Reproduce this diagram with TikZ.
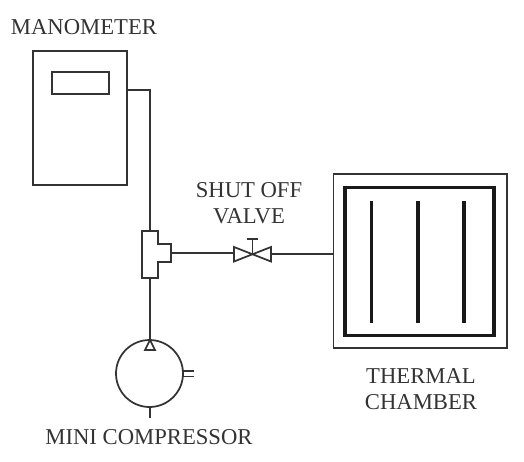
\documentclass[tikz,border=0pt]{standalone}
\usepackage{fontspec}
\setmainfont{Liberation Serif}
\tikzset{
  px/.style={x=0.75pt,y=-0.75pt},
  line/.style={draw=black!80,line width=1.3pt},
  thin box/.style={line,inner sep=0pt,outer sep=0pt},
  label/.style={font=\fontsize{17pt}{19.8pt}\selectfont,align=center,text=black!80,inner sep=0pt}
}
\begin{document}
\begin{tikzpicture}[px]
\useasboundingbox (0,0) rectangle (524,461);
% manometer
\node[thin box,minimum width=70.5pt,minimum height=100.5pt] (mano) at (80,118) {};
\node[thin box,minimum width=42.75pt,minimum height=16.5pt] (disp) at (80.5,83) {};
\coordinate (manoport) at (127,90);
\coordinate (bend) at (150,90);
% T fitting
\draw[line] (142,231) -- (158,231) -- (158,244) -- (171,244) -- (171,262) -- (158,262) -- (158,278) -- (142,278) -- cycle;
\coordinate (ttop) at (150,231);
\coordinate (tbot) at (150,278);
\coordinate (tright) at (171,253);
% valve
\coordinate (vc) at (252.5,254);
\coordinate (vl) at (234,253);
\coordinate (vr) at (271,254);
\draw[line] (234,247) -- (271,261.5) -- (271,247) -- (234,261.5) -- cycle;
\draw[line] (vc) -- (252.5,239) (247,239) -- (258,239);
% chamber
\node[thin box,minimum width=130pt,minimum height=130.5pt] (outer) at (420.25,261) {};
\node[draw=black!90,line width=2.4pt,inner sep=0pt,outer sep=0pt,minimum width=111.75pt,minimum height=111.25pt] (inner) at (419.5,261.5) {};
\draw[draw=black!90,line width=2.4pt] (371.5,201) -- (371.5,323);
\draw[draw=black!90,line width=2.6pt] (418,201) -- (418,323);
\draw[draw=black!90,line width=3.2pt] (464,201) -- (464,323);
% compressor
\node[circle,line,inner sep=0pt,outer sep=0pt,minimum size=50.25pt] (comp) at (149.5,373.5) {};
\draw[line] (150,340) -- (155,350) -- (145,350) -- cycle;
\draw[line] (183,371) -- (194,371) (183,376.5) -- (194,376.5);
\draw[line] (comp.south -| tbot) -- (150,418);
% pipes
\draw[line] (manoport) -- (bend) -- (ttop);
\draw[line] (tbot) -- (comp.north -| tbot);
\draw[line] (tright) -- (vl);
\draw[line] (vr) -- (outer.west |- vr);
% labels
\node[label] (lm) at (84,27) {MANOMETER};
\node[label] (lv) at (249,203) {SHUT OFF\\VALVE};
\node[label] (lt) at (421,389) {THERMAL\\CHAMBER};
\node[label] (lc) at (149,437) {MINI COMPRESSOR};
\end{tikzpicture}
\end{document}
